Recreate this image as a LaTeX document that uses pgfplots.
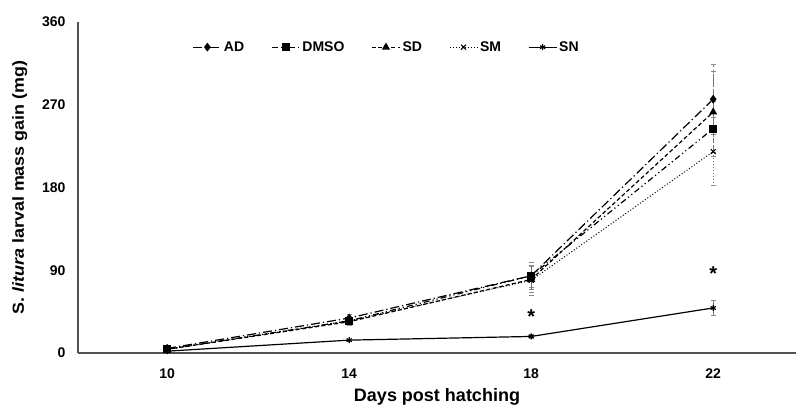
\documentclass[border=0pt]{standalone}
\usepackage{pgfplots}
\pgfplotsset{compat=1.18}
\usepackage{fontspec}
\setmainfont{Liberation Sans}
\begin{document}
\begin{tikzpicture}[x=1pt,y=1pt]
\begin{axis}[
  at={(78pt,52pt)}, anchor=south west,
  scale only axis, width=718pt, height=331pt,
  xmin=-0.49, xmax=3.455, ymin=0, ymax=360,
  xtick={0,1,2,3}, xticklabels={10,14,18,22},
  ytick={0,90,180,270,360},
  axis x line*=bottom, axis y line*=left,
  axis line style={draw=black!68, line width=1.2pt},
  major tick length=0pt,
  tick label style={font=\fontsize{14}{14}\selectfont\bfseries},
  /pgf/number format/assume math mode=true,
  yticklabel style={xshift=-9pt},
  xticklabel style={yshift=-12pt},
  xlabel={\fontsize{18}{18}\selectfont\bfseries Days post hatching},
  xlabel style={yshift=-3pt},
  ylabel={\fontsize{16}{16}\selectfont\bfseries\scalebox{1.12}[1]{S. \textit{litura} larval mass gain (mg)}},
  ylabel style={yshift=8pt},
  legend style={draw=none, fill=none, at={(0.43,0.924)}, anchor=center,
    font=\fontsize{14}{14}\selectfont\bfseries, legend columns=5,
    /tikz/every even column/.append style={column sep=25pt}},
  legend image code/.code={
    \draw[mark repeat=2,mark phase=2,#1] plot coordinates {(0pt,0pt) (14pt,0pt) (28pt,0pt)};},
  clip=false,
  error bars/y dir=both, error bars/y explicit,
  error bars/error bar style={draw=black!55, line width=0.6pt},
  error bars/error mark options={rotate=90, mark size=2.5pt, draw=black!45},
]
\addplot[black, line width=1.2pt, dash pattern=on 9pt off 3pt on 1.2pt off 3pt, mark=diamond*, mark size=3.5pt, mark options={solid}]
 coordinates {(0,5) +- (0,1) (1,38) +- (0,4) (2,84) +- (0,12) (3,276) +- (0,38)};
\addlegendentry{AD}
\addplot[black, line width=1.2pt, dash pattern=on 6pt off 3pt on 1.2pt off 3pt on 1.2pt off 3pt, mark=square*, mark size=3.5pt, mark options={solid}]
 coordinates {(0,4) +- (0,1) (1,35) +- (0,4) (2,84) +- (0,15) (3,244) +- (0,30)};
\addlegendentry{DMSO}
\addplot[black, line width=1.2pt, dash pattern=on 4pt off 2.5pt, mark=triangle*, mark size=3.5pt, mark options={solid}]
 coordinates {(0,4) +- (0,1) (1,34) +- (0,4) (2,80) +- (0,14) (3,262) +- (0,44)};
\addlegendentry{SD}
\addplot[black, line width=1.0pt, dash pattern=on 1pt off 2pt, mark=x, mark size=3.5pt, mark options={solid}]
 coordinates {(0,4) +- (0,1) (1,35) +- (0,4) (2,79) +- (0,16) (3,219) +- (0,37)};
\addlegendentry{SM}
\addplot[black, line width=1.2pt, mark=asterisk, mark size=3pt]
 coordinates {(0,2) +- (0,0.5) (1,14) +- (0,1.5) (2,18) +- (0,2) (3,49) +- (0,8)};
\addlegendentry{SN}
\node[font=\fontsize{20}{20}\selectfont\bfseries] at (axis cs:2,40) {*};
\node[font=\fontsize{20}{20}\selectfont\bfseries] at (axis cs:3,86) {*};
\end{axis}
\pgfresetboundingbox
\path[use as bounding box] (0,0) rectangle (796pt,405pt);
\end{tikzpicture}
\end{document}
